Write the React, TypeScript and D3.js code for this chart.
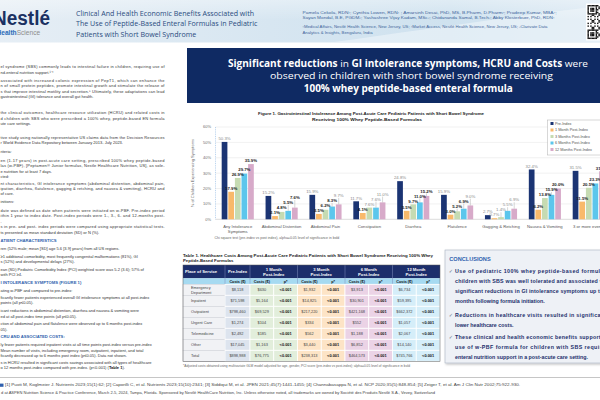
import React from "react";
import * as d3 from "d3";

// ---------------- DATA ----------------
const categories = [
  "Any Intolerance Symptoms",
  "Abdominal Distention",
  "Abdominal Pain",
  "Constipation",
  "Diarrhea",
  "Flatulence",
  "Gagging & Retching",
  "Nausea & Vomiting",
  "3 or more events",
];
const seriesNames = [
  "Pre-Index",
  "1 Month Post-Index",
  "3 Months Post-Index",
  "6 Months Post-Index",
  "12 Months Post-Index",
];
const preIndex = [50.3, 15.2, 15.9, 11.7, 24.8, 15.9, 2.7, 32.4, 31.5];
const month1 = [17.9, 2.1, 3.5, 4.1, 5.5, 3.0, 0.7, 6.2, 11.5];
const month3 = [26.9, 4.8, 6.2, 7.6, 9.7, 5.2, 1.4, 13.8, 20.5];
const month6 = [29.7, 5.5, 8.3, 7.6, 11.0, 6.9, 5.5, 15.9, 23.3];
const month12 = [35.9, 7.6, 9.7, 11.0, 15.2, 9.0, 6.9, 20.0, 31.2];
const sig1 = [true, true, true, true, true, true, false, true, true];
const sig3 = [true, true, true, false, true, true, false, true, true];
const sig6 = [true, true, true, false, true, true, false, true, true];
const sig12 = [true, true, false, false, true, false, false, true, true];
const yTicks = [0, 10, 20, 30, 40, 50, 60];

const tablePlaces = ["Emergency Department", "Inpatient", "Outpatient", "Urgent Care", "Telemedicine", "Other", "Total"];
const tablePeriods = ["1 Month", "3 Month", "6 Month", "12 Month"];
const costPre = ["$8,118", "$71,598", "$798,460", "$1,274", "$2,492", "$17,045", "$898,988"];
const cost1 = ["$630", "$5,164", "$69,529", "$104", "$185", "$1,163", "$76,775"];
const cost3 = ["$1,932", "$14,825", "$217,220", "$334", "$562", "$3,440", "$238,313"];
const cost6 = ["$3,913", "$30,901", "$421,168", "$552", "$1,188", "$6,852", "$464,573"];
const cost12 = ["$6,734", "$59,395", "$662,372", "$1,057", "$2,067", "$14,140", "$745,766"];
const pvals = ["<0.001", "<0.001", "<0.001", "<0.001", "<0.001", "<0.001", "<0.001"];

const titleLines = [
  "Clinical And Health Economic Benefits Associated with",
  "The Use of Peptide-Based Enteral Formulas in Pediatric",
  "Patients with Short Bowel Syndrome",
];
const authorLines = [
  "Pamela Cekola, RDN¹; Cynthia Lowen, RDN¹ ; Amarsinh Desai, PhD, MS, B.Pharm, D.Pharm²; Pradeep Kumar, MBA²;",
  "Sayan Mondal, B.E, PGDM³; Yashashree Vijay Kadam, MSc³; Chidananda Samal, B.Tech³; Abby Klosterbuer, PhD, RDN¹",
  "¹Medical Affairs, Nestlé Health Science, New Jersey, US; ²Market Access, Nestlé Health Science, New Jersey, US; ³Clarivate Data",
  "Analytics & Insights, Bengaluru, India",
];

const leftBlocks: string[][] = [
  ["el syndrome (SBS) commonly leads to intestinal failure in children, requiring use of", "nd-enteral nutrition support.¹⁻⁴"],
  ["associated with increased colonic expression of PepT1, which can enhance the", "n of small protein peptides, promote intestinal growth and stimulate the release of", "s that improve intestinal motility and secretion.⁵ Ultimately, these adaptations can lead", "gastrointestinal (GI) tolerance and overall gut health."],
  ["the clinical outcomes, healthcare resource utilization (HCRU) and related costs in", "d children with SBS who were prescribed a 100% whey, peptide-based EN formula", "ute care settings."],
  ["tive study using nationally representative US claims data from the Decision Resources", "r World Evidence Data Repository between January 2013- July 2023."],
  ["riteria:"],
  ["en (1-17 years) in post-acute care setting, prescribed 100% whey peptide-based", "las (w-PBF), [Peptamen® Junior formulas, Nestle Healthcare Nutrition, US], as sole-", "e nutrition for at least 7 days."],
  ["cted:"],
  ["nt characteristics, GI intolerance symptoms (abdominal distention, abdominal pain,", "ipation, diarrhea, flatulence, gagging & retching, and nausea & vomiting), HCRU and", " of care."],
  ["initions:"],
  ["date was defined as date when patients were initiated on w-PBF. Pre-index period", "ithin 1 year to index date. Post-index periods were 1-, 3-, 6- and 12-months post-", "."],
  ["s in pre- and post- index periods were compared using appropriate statistical tests.", "ts presented as mean standard deviation (SD) or N (%)."],
];
const resultBlocks: string[][] = [
  ["#ATIENT CHARACTERISTICS"],
  ["ren (52% male; mean [SD] age 5.6 [3.9] years) from all US regions."],
  ["≥1 additional comorbidity, most frequently congenital malformations (81%), GI", "s (52%) and developmental delays (27%)."],
  ["ean (SD) Pediatric Comorbidity Index (PCI) weighted score was 5.2 (3.6); 57% of", "with PCI ≥4."],
  ["#I INTOLERANCE SYMPTOMS (FIGURE 1)"],
  ["ating w-PBF and compared to pre-index:"],
  ["ficantly fewer patients experienced overall GI intolerance symptoms at all post-index", "points (all p≤0.05)."],
  ["icant reductions in abdominal distention, diarrhea and nausea & vomiting were", "ed at all post-index time points (all p≤0.05)."],
  ["ction of abdominal pain and flatulence were observed up to 6 months post-index", "05)."],
  ["#CRU AND ASSOCIATED COSTS:"],
  ["ly fewer patients required inpatient visits at all time points post-index versus pre-index", "Mean number of visits, including emergency room, outpatient, inpatient, and total", "ficantly decreased up to 6 months post index (p≤0.05). Data not shown."],
  ["s in HCRU resulted in significant costs savings associated with all types of healthcare", "o 12 months post-index compared with pre-index. (p<0.001) (Table 1)."],
];

const conclusionBullets: string[][] = [
  ["Use of pediatric 100% whey peptide-based formula in", "children with SBS was well tolerated and associated with", "significant reductions in GI intolerance symptoms up to 12", "months following formula initiation."],
  ["Reductions in healthcare visits resulted in significantly", "lower healthcare costs."],
  ["These clinical and health economic benefits support the", "use of w-PBF formula for children with SBS requiring", "enteral nutrition support in a post-acute care setting."],
];
const referenceLines = [
  "[1] Puoti M, Koglmeier J. Nutrients 2023;15(1):62; [2] Caporilli C, et al. Nutrients 2023;15(10):2341; [3] Siddiqui M, et al. JPEN 2021;45(7):1441-1455; [4] Channabasappa N, et al. NCP 2020;35(5):848-854; [5] Zeiger T, et al. Am J Clin Nutr 2002;75:922-930.",
  "d at ASPEN Nutrition Science & Practice Conference, March 2-5, 2024, Tampa, Florida. Sponsored by Nestlé HealthCare Nutrition, Inc. Unless otherwise noted, all trademarks are owned by Société des Produits Nestlé S.A., Vevey, Switzerland",
];

// ---------------- STYLE ----------------
const FONT = "'Liberation Sans', Arial, Helvetica, sans-serif";
const HEAD_FONT = "'Open Sans', 'Liberation Sans', Arial, sans-serif";
const NAVY = "#0f2a63";
const BODY = "#333333";
const seriesColors = ["#1b3473", "#f9b96b", "#c6dbb2", "#5cc6ec", "#d7aac9"];
const periodFills = ["#e2eedb", "#fde4c6", "#ebd3e6", "#d5eef9"];

function QR({ x, y, size }: { x: number; y: number; size: number }) {
  const n = 25;
  const m = size / n;
  const cells: JSX.Element[] = [];
  const finder = (r: number, c: number, r0: number, c0: number) => {
    const rr = r - r0, cc = c - c0;
    if (rr < 0 || cc < 0 || rr > 6 || cc > 6) return null;
    if (rr === 0 || rr === 6 || cc === 0 || cc === 6) return true;
    if (rr >= 2 && rr <= 4 && cc >= 2 && cc <= 4) return true;
    return false;
  };
  for (let r = 0; r < n; r++) {
    for (let c = 0; c < n; c++) {
      let on: boolean | null = finder(r, c, 0, 0);
      if (on === null) on = finder(r, c, 0, n - 7);
      if (on === null) on = finder(r, c, n - 7, 0);
      if (on === null) on = (r * 7 + c * 13 + r * c * 3) % 5 < 2;
      if (on) cells.push(<rect key={r + "-" + c} x={x + c * m} y={y + r * m} width={m + 0.05} height={m + 0.05} fill="#111" />);
    }
  }
  return (
    <g>
      <rect x={x - 1.5} y={y - 1.5} width={size + 3} height={size + 3} fill="#fff" />
      {cells}
    </g>
  );
}

export default function App() {
  const values = [preIndex, month1, month3, month6, month12];
  const sigs = [null, sig1, sig3, sig6, sig12];

  // chart scales
  const x0 = d3.scaleBand<string>().domain(categories).range([215.5, 611]).paddingInner(0.268).paddingOuter(0.141);
  const x1 = d3.scaleBand<string>().domain(seriesNames).range([0, x0.bandwidth()]).paddingInner(0.136);
  const y = d3.scaleLinear().domain([0, 60]).range([219.3, 127]);
  const bw = x1.bandwidth();

  const bars: JSX.Element[] = [];
  const labels: JSX.Element[] = [];
  categories.forEach((cat, i) => {
    let prevBase = Infinity;
    seriesNames.forEach((s, si) => {
      const v = values[si][i];
      const bx = (x0(cat) as number) + (x1(s) as number);
      const top = y(v);
      bars.push(<rect key={cat + s} x={bx} y={top} width={bw} height={y(0) - top} fill={seriesColors[si]} />);
      const natural = top - 1.8;
      let base = natural;
      if (si > 0) {
        base = si === 1 ? natural : Math.min(natural, prevBase - 5);
        prevBase = base;
      }
      const cx = bx + bw / 2;
      const isSig = si > 0 && (sigs[si] as boolean[])[i];
      if (base < natural - 1.5) {
        labels.push(<line key={"l" + cat + s} x1={cx} x2={cx} y1={top} y2={base + 0.8} stroke="#9a9a9a" strokeWidth={0.4} />);
      }
      labels.push(
        <text key={"t" + cat + s} x={cx} y={base} textAnchor="middle" fontSize={4.3}
          fontWeight={isSig ? 700 : 400} fill={isSig ? "#1a1a1a" : "#8a8a8a"} fontFamily={FONT}>
          {v.toFixed(1) + "%"}
        </text>
      );
    });
  });

  // table layout
  const tX = 183, tPlaceEnd = 225, tPreEnd = 250, gW = 47.5;
  const tTop = 265, tHeadBot = 278.3, tSubBot = 284.3, rowH = 11;
  const periodCosts = [cost1, cost3, cost6, cost12];
  const tRight = tPreEnd + gW * 4;
  const tBottom = tSubBot + rowH * tablePlaces.length;

  // left column layout
  const leftTops = [67, 80.5, 113, 137.7, 152, 160.7, 177, 183.3, 201.7, 210.7, 226.8];
  const resultTops = [241, 249, 256.7, 269.3, 282.3, 290.3, 297.7, 311, 324, 336.7, 345, 362.7];
  const lh = 5.35;

  const conclusionTops = [273, 317, 338.5];

  return (
    <svg width={600} height={400} viewBox="0 0 600 400"
      style={{ position: "absolute", left: 0, top: 0, background: "#fff" }} fontFamily={FONT}>
      <defs>
        <linearGradient id="hdr" x1="0" y1="0" x2="1" y2="0">
          <stop offset="0" stopColor="#e6eef5" />
          <stop offset="0.45" stopColor="#d7e6f1" />
          <stop offset="0.75" stopColor="#cfe2ef" />
          <stop offset="1" stopColor="#dce9f3" />
        </linearGradient>
        <linearGradient id="hdr2" x1="0" y1="0" x2="0" y2="1">
          <stop offset="0" stopColor="#ffffff" stopOpacity={0.35} />
          <stop offset="1" stopColor="#ffffff" stopOpacity={0} />
        </linearGradient>
        <filter id="shadow" x="-5%" y="-5%" width="115%" height="115%">
          <feDropShadow dx="1" dy="1.2" stdDeviation="1" floodColor="#000" floodOpacity="0.25" />
        </filter>
      </defs>

      {/* Header */}
      <rect x={0} y={0} width={600} height={42.5} fill="url(#hdr)" />
      <path d="M 330 42.5 C 420 30, 500 18, 600 6 L 600 42.5 Z" fill="#e9f2f8" opacity={0.7} />
      <rect x={0} y={0} width={600} height={20} fill="url(#hdr2)" />
      <text x={-7} y={24.5} fontSize={20} fontWeight={700} fill="#1b3162" fontFamily={FONT} textLength={57} lengthAdjust="spacingAndGlyphs">Nestlé</text>
      <text x={-3.5} y={34.5} fontSize={6.6} fontFamily={FONT}>
        <tspan fill="#2c6cb8" fontWeight={700}>Health</tspan>
        <tspan fill="#8c8c8c">Science</tspan>
      </text>
      {titleLines.map((t, i) => (
        <text key={t} x={76} y={15.8 + i * 10.4} fontSize={7.1} fill="#2b4c80" fontFamily={HEAD_FONT}>{t}</text>
      ))}
      {authorLines.map((t, i) => (
        <text key={t} x={302.5} y={[14, 18.7, 28, 33.8][i]} fontSize={3.55} fill="#40649a" fontFamily={FONT}
          textLength={[254, 252, 245, 70][i]} lengthAdjust="spacingAndGlyphs">{t}</text>
      ))}
      <QR x={587.5} y={5} size={34} />

      {/* Banner */}
      <rect x={187} y={48} width={413} height={55} fill={NAVY} />
      <text x={408} y={66.5} textAnchor="middle" fontSize={9.8} fill="#fff" fontFamily={HEAD_FONT} textLength={360} lengthAdjust="spacingAndGlyphs">
        <tspan fontWeight={700}>Significant reductions</tspan>
        <tspan fontWeight={400}> in </tspan>
        <tspan fontWeight={700}>GI intolerance symptoms, HCRU and Costs</tspan>
        <tspan fontWeight={400}> were</tspan>
      </text>
      <text x={411.5} y={78.5} textAnchor="middle" fontSize={9.8} fill="#fff" fontFamily={HEAD_FONT} textLength={283} lengthAdjust="spacingAndGlyphs">observed in children with short bowel syndrome receiving</text>
      <text x={408.3} y={91.8} textAnchor="middle" fontSize={9.8} fontWeight={700} fill="#fff" fontFamily={HEAD_FONT} textLength={209} lengthAdjust="spacingAndGlyphs">100% whey peptide-based enteral formula</text>

      {/* Left column text */}
      {leftBlocks.map((blk, bi) =>
        blk.map((t, li) => {
          const justify = li < blk.length - 1;
          return (
            <text key={"L" + bi + "-" + li} x={0.5} y={leftTops[bi] + 1.4 + li * lh} fontSize={4} fill={BODY}
              {...(justify ? { textLength: 164, lengthAdjust: "spacing" } : {})}>{t}</text>
          );
        })
      )}
      {resultBlocks.map((blk, bi) =>
        blk.map((t, li) => {
          const head = t.startsWith("#");
          const last = bi === resultBlocks.length - 1 && li === 1;
          return (
            <text key={"R" + bi + "-" + li} x={0.5} y={resultTops[bi] + 1.4 + li * lh} fontSize={head ? 4.2 : 4}
              fontWeight={head ? 700 : 400} fill={head ? "#2f5fae" : BODY}>
              {last ? (
                <>
                  <tspan>o 12 months post-index compared with pre-index. (p&lt;0.001) (</tspan>
                  <tspan fontWeight={700} fill="#111">Table 1</tspan>
                  <tspan>).</tspan>
                </>
              ) : head ? t.slice(1) : t}
            </text>
          );
        })
      )}

      {/* Chart title */}
      <text x={371} y={114.8} textAnchor="middle" fontSize={4.4} fontWeight={700} fill="#222" textLength={226} lengthAdjust="spacingAndGlyphs">
        Figure 1. Gastrointestinal Intolerance Among Post-Acute Care Pediatric Patients with Short Bowel Syndrome
      </text>
      <text x={367} y={120.6} textAnchor="middle" fontSize={4.4} fontWeight={700} fill="#222" textLength={110} lengthAdjust="spacingAndGlyphs">
        Receiving 100% Whey Peptide-Based Formulas
      </text>

      {/* Grid + axis */}
      {yTicks.map((t) => (
        <g key={"g" + t}>
          <line x1={215.5} x2={600} y1={y(t)} y2={y(t)} stroke={t === 0 ? "#b9b9b9" : "#e3e3e3"} strokeWidth={0.5} />
          <text x={211} y={y(t) + 1.4} textAnchor="end" fontSize={4} fill="#6b6b6b">{t + "%"}</text>
        </g>
      ))}
      <line x1={215.5} x2={215.5} y1={y(60)} y2={y(0)} stroke="#8fb8e4" strokeWidth={0.6} strokeDasharray="1,0.8" />
      <text transform={`translate(193.5, ${(y(0) + y(60)) / 2}) rotate(-90)`} textAnchor="middle" fontSize={4} fill="#6b6b6b">
        % of Children Experiencing Symptoms
      </text>
      {bars}
      {labels}
      {categories.map((c) => {
        const lines = c === "Any Intolerance Symptoms" ? ["Any Intolerance", "Symptoms"] : [c];
        const cx = (x0(c) as number) + x0.bandwidth() / 2;
        return lines.map((l, li) => (
          <text key={c + li} x={cx} y={227.5 + li * 5.4} textAnchor="middle" fontSize={4.2} fill="#555">{l}</text>
        ));
      })}
      <text x={214.5} y={239} fontSize={3.5} fill="#666">
        Chi square test (pre-index vs post index), alpha=0.05 level of significance in bold
      </text>

      {/* Legend */}
      <rect x={547.7} y={120} width={60} height={35} fill="#fff" stroke="#b0b0b0" strokeWidth={0.5} />
      {seriesNames.map((s, i) => (
        <g key={"lg" + s}>
          <rect x={550.5} y={122 + i * 6.5} width={3} height={3} fill={seriesColors[i]} />
          <text x={555} y={124.6 + i * 6.5} fontSize={3.8} fill="#555">{s}</text>
        </g>
      ))}

      {/* Table */}
      <text x={tX} y={256.5} fontSize={4.3} fontWeight={700} fill="#222" textLength={250} lengthAdjust="spacingAndGlyphs">
        Table 1. Healthcare Costs Among Post-Acute Care Pediatric Patients with Short Bowel Syndrome Receiving 100% Whey
      </text>
      <text x={tX} y={262} fontSize={4.3} fontWeight={700} fill="#222">Peptide-Based Formulas</text>
      <rect x={tX} y={tTop} width={tRight - tX} height={tHeadBot - tTop} fill="#1c2e6b" />
      <rect x={tX} y={tHeadBot} width={tRight - tX} height={tSubBot - tHeadBot} fill="#a6daf1" />
      <text x={185} y={272.8} fontSize={4.2} fontWeight={700} fill="#fff">Place of Service</text>
      <text x={(tPlaceEnd + tPreEnd) / 2} y={272.8} textAnchor="middle" fontSize={4.2} fontWeight={700} fill="#fff">Pre-Index</text>
      {tablePeriods.map((p, i) => {
        const gx = tPreEnd + i * gW;
        return (
          <g key={"h" + p}>
            <text x={gx + gW / 2} y={270.5} textAnchor="middle" fontSize={4.2} fontWeight={700} fill="#fff">{p}</text>
            <text x={gx + gW / 2} y={275.8} textAnchor="middle" fontSize={4.2} fontWeight={700} fill="#fff">Post-Index</text>
            <text x={gx + gW / 4} y={282.6} textAnchor="middle" fontSize={3.8} fontWeight={700} fill="#111">Costs ($)</text>
            <text x={gx + (3 * gW) / 4} y={282.6} textAnchor="middle" fontSize={3.8} fontWeight={700} fill="#111">p*</text>
          </g>
        );
      })}
      <text x={(tPlaceEnd + tPreEnd) / 2} y={282.6} textAnchor="middle" fontSize={3.8} fontWeight={700} fill="#111">Costs ($)</text>
      {[tPlaceEnd, tPreEnd, tPreEnd + gW, tPreEnd + 2 * gW, tPreEnd + 3 * gW].map((vx) => (
        <line key={"vs" + vx} x1={vx} x2={vx} y1={tTop} y2={tSubBot} stroke="#7f8fbf" strokeWidth={0.5} />
      ))}
      {tablePlaces.map((pl, r) => {
        const ry = tSubBot + r * rowH;
        const cy = ry + rowH / 2;
        const cells: JSX.Element[] = [];
        cells.push(<rect key="pc" x={tX} y={ry} width={tPlaceEnd - tX} height={rowH} fill="#f1f2f5" stroke="#c9ccd3" strokeWidth={0.5} />);
        cells.push(<rect key="pr" x={tPlaceEnd} y={ry} width={tPreEnd - tPlaceEnd} height={rowH} fill="#dde4ee" stroke="#fff" strokeWidth={0.8} />);
        periodCosts.forEach((pc, gi) => {
          const gx = tPreEnd + gi * gW;
          cells.push(<rect key={"c" + gi} x={gx} y={ry} width={gW / 2} height={rowH} fill={periodFills[gi]} stroke="#fff" strokeWidth={0.8} />);
          cells.push(<rect key={"p" + gi} x={gx + gW / 2} y={ry} width={gW / 2} height={rowH} fill={periodFills[gi]} stroke="#fff" strokeWidth={0.8} />);
          cells.push(<text key={"ct" + gi} x={gx + gW / 4} y={cy + 1.4} textAnchor="middle" fontSize={3.9} fill="#444">{pc[r]}</text>);
          cells.push(<text key={"pt" + gi} x={gx + (3 * gW) / 4} y={cy + 1.4} textAnchor="middle" fontSize={3.9} fontWeight={700} fill="#111">{pvals[r]}</text>);
        });
        cells.push(<text key="prt" x={(tPlaceEnd + tPreEnd) / 2} y={cy + 1.4} textAnchor="middle" fontSize={3.9} fill="#444">{costPre[r]}</text>);
        const plLines = pl === "Emergency Department" ? ["Emergency", "Department"] : [pl];
        plLines.forEach((l, li) => {
          cells.push(
            <text key={"pl" + li} x={191} y={cy + 1.4 + (plLines.length > 1 ? (li - 0.5) * 4.6 : 0)} fontSize={3.9} fill="#444">{l}</text>
          );
        });
        return <g key={"row" + pl}>{cells}</g>;
      })}
      <rect x={tX} y={tTop} width={tRight - tX} height={tBottom - tTop} fill="none" stroke="#5a5a5a" strokeWidth={0.5} />
      <text x={tX} y={367.2} fontSize={3.3} fill="#666" textLength={227} lengthAdjust="spacingAndGlyphs">
        *Adjusted costs obtained using multivariate GLM model adjusted for age, gender, PCI score (pre-index vs post-index); alpha=0.05 level of significance in bold
      </text>

      {/* Conclusions */}
      <rect x={445} y={250} width={170} height={113} fill="#eef1f6" stroke="#a9b3c1" strokeWidth={0.6} filter="url(#shadow)" />
      <text x={449.3} y={261.3} fontSize={5.6} fontWeight={700} fill="#2f5fae">CONCLUSIONS</text>
      {conclusionBullets.map((b, bi) => (
        <g key={"cb" + bi}>
          <text x={448.8} y={conclusionTops[bi]} fontSize={5} fill="#6a7486" fontFamily="'DejaVu Sans', sans-serif">✓</text>
          {b.map((l, li) => (
            <text key={l} x={455} y={conclusionTops[bi] + li * 10} fontSize={5.3} fontWeight={700} fill="#1b2f6b"
              {...(li < b.length - 1 ? { textLength: 156, lengthAdjust: "spacing" } : {})}>{l}</text>
          ))}
        </g>
      ))}

      {/* Footer */}
      <line x1={0} x2={600} y1={377.5} y2={377.5} stroke="#a0a0a0" strokeWidth={0.6} />
      <rect x={0} y={383.6} width={3.5} height={3.2} fill="#2f5fae" />
      <text x={5} y={386.4} fontSize={4} fill="#444" textLength={515} lengthAdjust="spacingAndGlyphs">{referenceLines[0]}</text>
      <text x={1} y={393.6} fontSize={4} fill="#444" textLength={434} lengthAdjust="spacingAndGlyphs">{referenceLines[1]}</text>
    </svg>
  );
}
